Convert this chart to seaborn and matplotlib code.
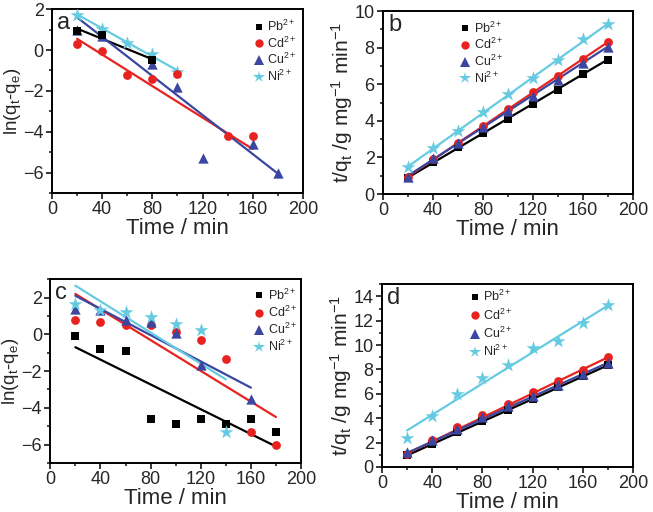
import numpy as np
import pandas as pd
import matplotlib
matplotlib.use("Agg")
import matplotlib.pyplot as plt
import seaborn as sns

sns.set_style("ticks")
plt.rcParams['font.family'] = ['Liberation Sans', 'DejaVu Sans']
plt.rcParams['mathtext.default'] = 'regular'

ions = ["Pb", "Cd", "Cu", "Ni"]
ion_labels = ["Pb$^{2+}$", "Cd$^{2+}$", "Cu$^{2+}$", "Ni$^{2+}$"]
colors = {"Pb": "#000000", "Cd": "#e8231f", "Cu": "#3a46a0", "Ni": "#66cbe0"}
markers = {"Pb": "s", "Cd": "o", "Cu": "^", "Ni": "*"}
msizes = {"Pb": 30, "Cd": 40, "Cu": 55, "Ni": 110}

# ---------- panel a: pseudo-first-order (set 1) ----------
a_t = {"Pb": [20, 40, 80], "Cd": [20, 40, 60, 80, 100, 140, 160],
       "Cu": [20, 40, 80, 100, 120, 160, 180], "Ni": [20, 40, 60, 80, 100]}
a_y = {"Pb": [0.95, 0.75, -0.5], "Cd": [0.3, -0.05, -1.2, -1.4, -1.15, -4.2, -4.2],
       "Cu": [1.0, 0.7, -0.7, -1.8, -5.3, -4.6, -6.0], "Ni": [1.7, 1.05, 0.35, -0.2, -1.05]}
a_fit_t = {"Pb": [20, 80], "Cd": [20, 160], "Cu": [20, 180], "Ni": [20, 100]}
a_fit_y = {"Pb": [1.05, -0.45], "Cd": [0.55, -4.85], "Cu": [1.6, -6.05], "Ni": [1.75, -1.0]}

# ---------- panel b: pseudo-second-order (set 1) ----------
time9 = [20, 40, 60, 80, 100, 120, 140, 160, 180]
b_y = {"Pb": [0.9, 1.75, 2.55, 3.35, 4.1, 4.9, 5.7, 6.55, 7.35],
       "Cd": [0.95, 1.9, 2.8, 3.7, 4.65, 5.55, 6.45, 7.4, 8.3],
       "Cu": [0.95, 1.95, 2.8, 3.65, 4.55, 5.35, 6.25, 7.15, 8.05],
       "Ni": [1.5, 2.5, 3.45, 4.5, 5.45, 6.35, 7.3, 8.45, 9.3]}
b_fit_t = {k: [20, 180] for k in ions}
b_fit_y = {"Pb": [0.9, 7.35], "Cd": [0.95, 8.3], "Cu": [1.0, 8.05], "Ni": [1.5, 9.3]}

# ---------- panel c: pseudo-first-order (set 2) ----------
c_t = {"Pb": time9, "Cd": time9, "Cu": [20, 40, 60, 80, 100, 120, 160],
       "Ni": [20, 40, 60, 80, 100, 120, 140]}
c_y = {"Pb": [-0.1, -0.8, -0.9, -4.6, -4.9, -4.6, -4.9, -4.6, -5.3],
       "Cd": [0.8, 0.65, 0.5, 0.5, 0.1, -0.3, -1.35, -5.3, -6.0],
       "Cu": [1.4, 1.3, 0.8, 0.65, 0.05, -1.65, -3.5],
       "Ni": [1.65, 1.35, 1.2, 0.95, 0.55, 0.25, -5.3]}
c_fit_t = {"Pb": [20, 180], "Cd": [20, 180], "Cu": [20, 160], "Ni": [20, 140]}
c_fit_y = {"Pb": [-0.7, -6.1], "Cd": [2.2, -4.5], "Cu": [2.1, -2.9], "Ni": [2.65, -2.45]}

# ---------- panel d: pseudo-second-order (set 2) ----------
d_y = {"Pb": [1.0, 1.9, 2.85, 3.75, 4.65, 5.6, 6.55, 7.45, 8.35],
       "Cd": [1.1, 2.2, 3.25, 4.3, 5.2, 6.15, 7.05, 7.95, 9.0],
       "Cu": [1.2, 2.25, 3.15, 4.1, 5.0, 5.8, 6.75, 7.6, 8.55],
       "Ni": [2.4, 4.15, 5.95, 7.3, 8.4, 9.75, 10.35, 11.85, 13.3]}
d_fit_t = {k: [20, 180] for k in ions}
d_fit_y = {"Pb": [0.95, 8.35], "Cd": [1.1, 9.0], "Cu": [1.15, 8.55], "Ni": [3.0, 13.25]}

ylab1 = r"ln(q$_t$-q$_e$)"
ylab2 = r"t/q$_t$ /g mg$^{-1}$ min$^{-1}$"

panels = [
    dict(pos=[0.0796, 0.623, 0.3844, 0.359], t=a_t, y=a_y, ft=a_fit_t, fy=a_fit_y,
         ylim=(-7, 2), yticks=[-6, -4, -2, 0, 2], ylabel=ylab1, ylfs=13.5, letter="a",
         leg=(0.803, 0.948), lsp=0.12, order_pts=["Ni", "Cd", "Cu", "Pb"]),
    dict(pos=[0.5865, 0.621, 0.3825, 0.3575], t={k: time9 for k in ions}, y=b_y, ft=b_fit_t, fy=b_fit_y,
         ylim=(0, 10), yticks=[0, 2, 4, 6, 8, 10], ylabel=ylab2, ylfs=15, letter="b",
         leg=(0.31, 0.948), lsp=0.12, order_pts=ions),
    dict(pos=[0.077, 0.0957, 0.384, 0.359], t=c_t, y=c_y, ft=c_fit_t, fy=c_fit_y,
         ylim=(-7, 3), yticks=[-6, -4, -2, 0, 2], ylabel=ylab1, ylfs=13.5, letter="c",
         leg=(0.812, 0.954), lsp=0.15, order_pts=ions),
    dict(pos=[0.585, 0.088, 0.3845, 0.357], t={k: time9 for k in ions}, y=d_y, ft=d_fit_t, fy=d_fit_y,
         ylim=(0, 15), yticks=[0, 2, 4, 6, 8, 10, 12, 14], ylabel=ylab2, ylfs=15, letter="d",
         leg=(0.349, 0.972), lsp=0.25, order_pts=ions),
]

fig = plt.figure(figsize=(6.53, 5.12), dpi=100)

for p in panels:
    ax = fig.add_axes(p["pos"])
    rows = []
    for k in ions:
        for tt, yy in zip(p["t"][k], p["y"][k]):
            rows.append({"time": tt, "val": yy, "ion": k})
    df = pd.DataFrame(rows)
    # fit lines
    for k in ions:
        fdf = pd.DataFrame({"time": p["ft"][k], "val": p["fy"][k]})
        sns.lineplot(data=fdf, x="time", y="val", ax=ax, color=colors[k], lw=1.6,
                     legend=False, zorder=2)
    # points
    for k in p["order_pts"]:
        sub = df[df.ion == k]
        sns.scatterplot(data=sub, x="time", y="val", ax=ax, color=colors[k],
                        marker=markers[k], s=msizes[k], linewidth=0, legend=False, zorder=3)
    ax.set_xlim(0, 200)
    ax.set_ylim(*p["ylim"])
    ax.set_xticks([0, 40, 80, 120, 160, 200])
    ax.set_xticks([20, 60, 100, 140, 180], minor=True)
    ax.set_yticks(p["yticks"])
    yt = p["yticks"]
    step = yt[1] - yt[0]
    minors = [v + step / 2 for v in yt if p["ylim"][0] <= v + step / 2 <= p["ylim"][1]]
    minors += [v - step / 2 for v in [yt[0]] if v - step / 2 >= p["ylim"][0]]
    ax.set_yticks(minors, minor=True)
    ax.tick_params(axis="both", which="major", direction="out", length=4, width=1.3,
                   labelsize=13, pad=2)
    ax.tick_params(axis="both", which="minor", direction="out", length=2.5, width=1.2)
    for sp in ax.spines.values():
        sp.set_linewidth(1.4)
        sp.set_color("black")
    ax.set_xlabel("Time / min", fontsize=16, labelpad=0)
    ax.set_ylabel(p["ylabel"], fontsize=p["ylfs"], labelpad=0)
    ax.text(0.02, 0.985, p["letter"], transform=ax.transAxes, fontsize=17,
            va="top", ha="left")
    handles = [plt.Line2D([], [], ls="none", marker=markers[k], color=colors[k],
                          markersize={"Pb": 5, "Cd": 6, "Cu": 7, "Ni": 9}[k], markeredgewidth=0)
               for k in ions]
    ax.legend(handles, ion_labels, loc="upper left", bbox_to_anchor=p["leg"],
              frameon=False, fontsize=9, borderpad=0, borderaxespad=0,
              handlelength=0.8, handletextpad=0.3, labelspacing=p["lsp"])

fig.savefig("out.png", dpi=100)
